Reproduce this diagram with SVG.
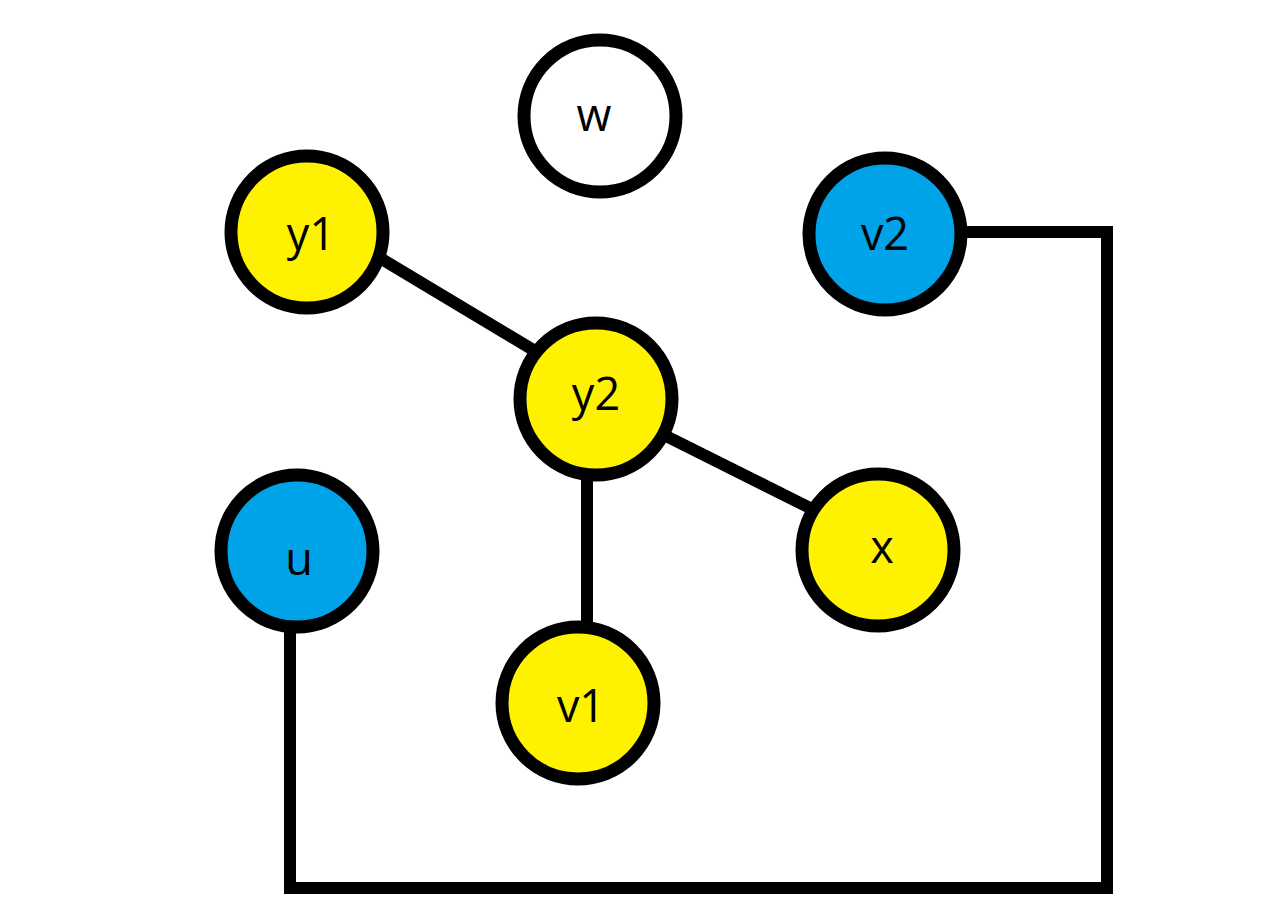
<svg xmlns="http://www.w3.org/2000/svg" width="1280" height="907" viewBox="0 0 1280 907">
<style>
.edge{stroke:#000;stroke-width:12;fill:none;stroke-linejoin:miter}
.node{stroke:#000;stroke-width:13}
.yellow{fill:#FFF200}
.blue{fill:#00A2E8}
.white{fill:#FFFFFF}
.lbl{font-family:"Open Sans","Noto Sans","Liberation Sans",sans-serif;font-size:45px;fill:#000;text-anchor:middle}
</style>
<rect width="1280" height="907" fill="#FFFFFF"/>
<g id="connectors">
<line class="edge" x1="350" y1="240" x2="560" y2="366"/>
<line class="edge" x1="640" y1="423" x2="830" y2="518"/>
<line class="edge" x1="587" y1="470" x2="587" y2="635"/>
<path class="edge" d="M960,232 H1107 V888 H290 V620"/>
</g>
<g id="node-w"><circle class="node white" cx="600" cy="116" r="76"/><text class="lbl" x="594" y="131">w</text></g>
<g id="node-y1"><circle class="node yellow" cx="307" cy="232" r="76"/><text class="lbl" x="311" y="250">y1</text></g>
<g id="node-v2"><circle class="node blue" cx="885" cy="234" r="76"/><text class="lbl" x="885" y="250">v2</text></g>
<g id="node-y2"><circle class="node yellow" cx="596" cy="399" r="76"/><text class="lbl" x="596" y="410">y2</text></g>
<g id="node-u"><circle class="node blue" cx="297" cy="551" r="76"/><text class="lbl" x="299" y="575">u</text></g>
<g id="node-x"><circle class="node yellow" cx="878" cy="550" r="76"/><text class="lbl" x="882" y="563">x</text></g>
<g id="node-v1"><circle class="node yellow" cx="578" cy="703" r="76"/><text class="lbl" x="581" y="722">v1</text></g>
</svg>
